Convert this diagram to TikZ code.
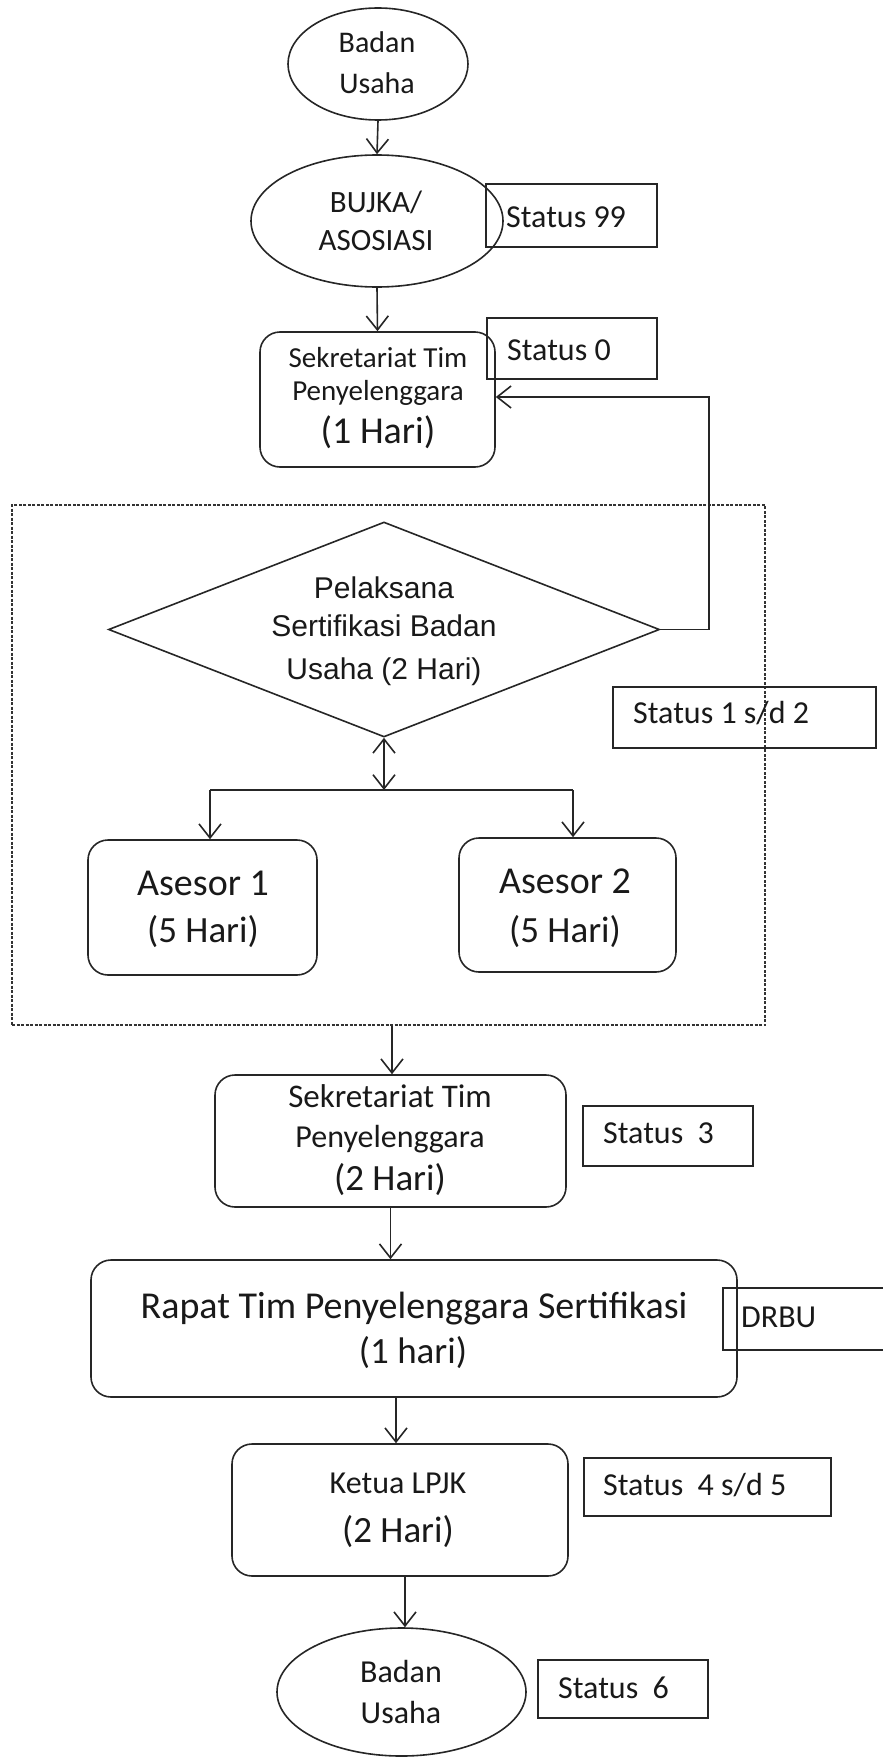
\documentclass[tikz,border=0pt]{standalone}
\usepackage{fontspec}
\setmainfont{Carlito}
\newfontfamily\arialfont{Liberation Sans}
\usetikzlibrary{arrows.meta,shapes.geometric}
\begin{document}
\begin{tikzpicture}[x=1pt,y=-1pt,
  shp/.style={draw=black!85, line width=1.6pt, inner sep=0pt},
  ell/.style={shp, ellipse},
  rbox/.style={shp, rectangle, rounded corners=20pt},
  sbox/.style={shp, rectangle},
  dia/.style={shp, diamond},
  grp/.style={draw=black!80, line width=1.1pt, dash pattern=on 3pt off 1.5pt, rectangle, inner sep=0pt},
  arr/.style={draw=black!85, line width=1.6pt, -{Straight Barb[length=14pt,width=22pt,line width=1.6pt]}},
  darr/.style={draw=black!85, line width=1.6pt, {Straight Barb[length=14pt,width=22pt,line width=1.6pt]}-{Straight Barb[length=14pt,width=22pt,line width=1.6pt]}},
  ln/.style={draw=black!85, line width=1.6pt},
  tx/.style={anchor=base, inner sep=0pt, text=black!90},
  txl/.style={anchor=base west, inner sep=0pt, text=black!90},
]
\useasboundingbox (0,0) rectangle (883,1758);
\clip (0,0) rectangle (883,1758);

% shapes
\node[ell, minimum width=180pt, minimum height=112pt] (bu1) at (378,64) {};
\node[ell, minimum width=252pt, minimum height=132pt] (bujka) at (377,221) {};
\node[sbox, minimum width=171pt, minimum height=63pt] (s99) at (571.5,215.5) {};
\node[rbox, minimum width=235pt, minimum height=135pt] (sek1) at (377.5,399.5) {};
\node[sbox, minimum width=170pt, minimum height=61pt] (s0) at (572,348.5) {};
\node[grp, minimum width=753pt, minimum height=520pt] (grp) at (388.5,765) {};
\node[dia, minimum width=551pt, minimum height=215pt, aspect=2.56] (pel) at (384,629.5) {};
\node[sbox, minimum width=263pt, minimum height=61pt] (s12) at (744.5,717.5) {};
\node[rbox, minimum width=229pt, minimum height=135pt] (a1) at (202.5,907.5) {};
\node[rbox, minimum width=217pt, minimum height=134pt] (a2) at (567.5,905) {};
\node[rbox, minimum width=351pt, minimum height=132pt] (sek2) at (390.5,1141) {};
\node[sbox, minimum width=170pt, minimum height=60pt] (s3) at (668,1136) {};
\node[rbox, minimum width=646pt, minimum height=137pt] (rapat) at (414,1328.5) {};
\node[sbox, minimum width=177pt, minimum height=62pt] (drbu) at (811.5,1319) {};
\node[rbox, minimum width=336pt, minimum height=132pt] (ketua) at (400,1510) {};
\node[sbox, minimum width=247pt, minimum height=58pt] (s45) at (707.5,1487) {};
\node[ell, minimum width=249pt, minimum height=128pt] (bu2) at (401.5,1692) {};
\node[sbox, minimum width=170pt, minimum height=58pt] (s6) at (623,1689) {};

% texts
\node[tx, font=\fontsize{30}{36}\selectfont] (t1) at (377,53) {Badan};
\node[tx, font=\fontsize{30}{36}\selectfont] (t2) at (377,94) {Usaha};
\node[tx, font=\fontsize{31}{37}\selectfont] (t3) at (376,212) {BUJKA/};
\node[tx, font=\fontsize{31}{37}\selectfont] (t4) at (376,250) {ASOSIASI};
\node[txl, font=\fontsize{32}{38}\selectfont] (t5) at (506,227) {Status 99};
\node[txl, font=\fontsize{32}{38}\selectfont] (t6) at (507,360) {Status 0};
\node[tx, font=\fontsize{29}{35}\selectfont] (t7) at (378,367) {Sekretariat Tim};
\node[tx, font=\fontsize{29}{35}\selectfont] (t8) at (378,400) {Penyelenggara};
\node[tx, font=\fontsize{38}{45}\selectfont] (t9) at (378,443) {(1 Hari)};
\node[tx, font=\arialfont\fontsize{30}{36}\selectfont] (t10) at (384,598) {Pelaksana};
\node[tx, font=\arialfont\fontsize{30}{36}\selectfont] (t11) at (384,636) {Sertifikasi Badan};
\node[tx, font=\arialfont\fontsize{30}{36}\selectfont] (t12) at (384,679) {Usaha (2 Hari)};
\node[txl, font=\fontsize{32}{38}\selectfont] (t13) at (633,723) {Status 1 s/d 2};
\node[tx, font=\fontsize{38}{45}\selectfont] (t14) at (203,895) {Asesor 1};
\node[tx, font=\fontsize{37}{44}\selectfont] (t15) at (203,942) {(5 Hari)};
\node[tx, font=\fontsize{38}{45}\selectfont] (t16) at (565,893) {Asesor 2};
\node[tx, font=\fontsize{37}{44}\selectfont] (t17) at (565,942) {(5 Hari)};
\node[tx, font=\fontsize{33}{39}\selectfont] (t18) at (390,1107) {Sekretariat Tim};
\node[tx, font=\fontsize{32}{38}\selectfont] (t19) at (390,1147) {Penyelenggara};
\node[tx, font=\fontsize{37}{44}\selectfont] (t20) at (390,1190) {(2 Hari)};
\node[txl, font=\fontsize{32}{38}\selectfont] (t21) at (603,1143) {Status~~3};
\node[tx, font=\fontsize{38}{45}\selectfont] (t22) at (414,1318) {Rapat Tim Penyelenggara Sertifikasi};
\node[tx, font=\fontsize{37}{44}\selectfont] (t23) at (413,1363) {(1 hari)};
\node[txl, font=\fontsize{32}{38}\selectfont] (t24) at (741,1327) {DRBU};
\node[tx, font=\fontsize{32}{38}\selectfont] (t25) at (398,1493) {Ketua LPJK};
\node[tx, font=\fontsize{37}{44}\selectfont] (t26) at (398,1542) {(2 Hari)};
\node[txl, font=\fontsize{32}{38}\selectfont] (t27) at (603,1495) {Status~~4 s/d 5};
\node[tx, font=\fontsize{32}{38}\selectfont] (t28) at (401,1682) {Badan};
\node[tx, font=\fontsize{32}{38}\selectfont] (t29) at (401,1723) {Usaha};
\node[txl, font=\fontsize{32}{38}\selectfont] (t30) at (558,1698) {Status~~6};

% connectors
\coordinate (fb) at (709,397);
\coordinate (split) at (384,790);
\coordinate (sl) at (210,790);
\coordinate (sr) at (573,790);

\draw[arr] (bu1.south) -- (bujka.north);
\draw[arr] (bujka.south) -- (sek1.north);
\draw[arr] (pel.east) -| (fb) -- (fb -| sek1.east);
\draw[darr] (pel.south) -- (split);
\draw[ln] (sl) -- (sr);
\draw[arr] (sl) -- (sl |- a1.north);
\draw[arr] (sr) -- (sr |- a2.north);
\draw[arr] (392,0 |- grp.south) -- (392,0 |- sek2.north);
\draw[arr] (sek2.south) -- (sek2.south |- rapat.north);
\draw[arr] (396,0 |- rapat.south) -- (396,0 |- ketua.north);
\draw[arr] (405,0 |- ketua.south) -- (405,0 |- bu2.north);
\end{tikzpicture}
\end{document}
